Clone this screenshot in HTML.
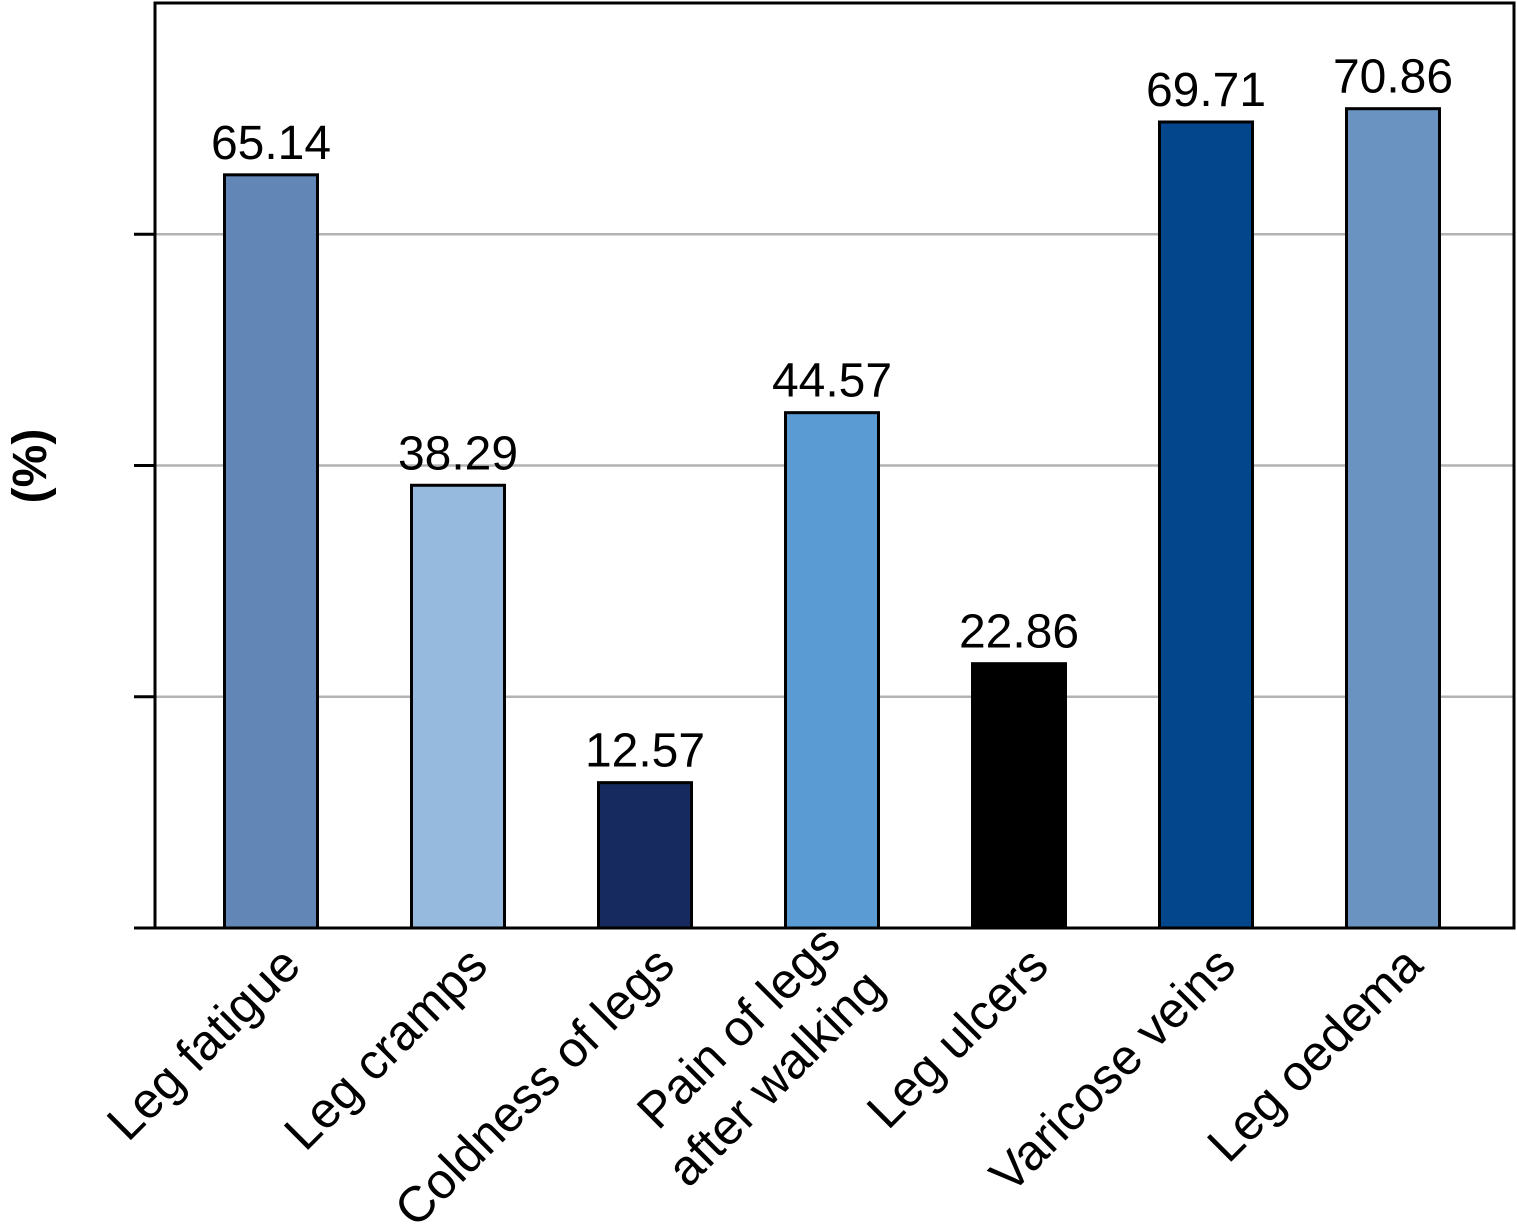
<!DOCTYPE html>
<html><head><meta charset="utf-8"><style>
html,body{margin:0;padding:0;background:#fff}
svg{display:block;font-family:"Liberation Sans","DejaVu Sans",sans-serif}
</style></head><body>
<svg id="chart" width="1517" height="1225" viewBox="0 0 1517 1225">
<g id="grid"></g>
<g id="bars"></g>
<g id="axes"></g>
<g id="labels"></g>
<text x="0" y="0" transform="translate(46,466) rotate(-90)" text-anchor="middle" font-size="48" font-weight="bold">(%)</text>
</svg>
<script>
const categories = ["Leg fatigue","Leg cramps","Coldness of legs","Pain of legs|after walking","Leg ulcers","Varicose veins","Leg oedema"];
const values = [65.14,38.29,12.57,44.57,22.86,69.71,70.86];
const valueLabels = ["65.14","38.29","12.57","44.57","22.86","69.71","70.86"];
const colors = ["#6286b6","#96b9de","#162a5f","#5a9bd3","#000000","#04468b","#6a93c2"];
const gridValues = [20,40,60];
const tickValues = [0,20,40,60];
const NS="http://www.w3.org/2000/svg";
const L=155,R=1514,T=3,B=928,yMax=80;
const y=v=>B-(B-T)*v/yMax;
const x0=177.5, step=187, bw=93;
const xc=i=>x0+step*(i+0.5);
function mk(tag,attrs,parent){const e=document.createElementNS(NS,tag);for(const k in attrs)e.setAttribute(k,attrs[k]);document.getElementById(parent).appendChild(e);return e;}
gridValues.forEach(v=>{const g=mk('line',{x1:L,x2:R,y1:y(v),y2:y(v),stroke:'#b3b3b3','stroke-width':2.5},'grid');

});
values.forEach((v,i)=>{
const r=mk('rect',{x:xc(i)-bw/2,y:y(v),width:bw,height:B-y(v),fill:colors[i],stroke:'#000','stroke-width':3},'bars');


const t=mk('text',{x:xc(i),y:y(v)-16,'text-anchor':'middle','font-size':48},'labels');


t.textContent=valueLabels[i];
const parts=categories[i].split('|');
const cl=mk('text',{transform:`translate(${xc(i)+32},${968}) rotate(-45)`,'text-anchor':'end','font-size':50},'labels');


parts.forEach((p,j)=>{const ts=document.createElementNS(NS,'tspan');ts.setAttribute('x',0);ts.setAttribute('y',j*62-(parts.length-1)*30);ts.textContent=p;cl.appendChild(ts);});
});
const box=mk('rect',{x:L,y:T,width:R-L,height:B-T,fill:'none',stroke:'#000','stroke-width':3},'axes');


tickValues.forEach(v=>{const tk=mk('line',{x1:134,x2:L,y1:y(v),y2:y(v),stroke:'#000','stroke-width':3},'axes');

});
</script>
</body></html>
